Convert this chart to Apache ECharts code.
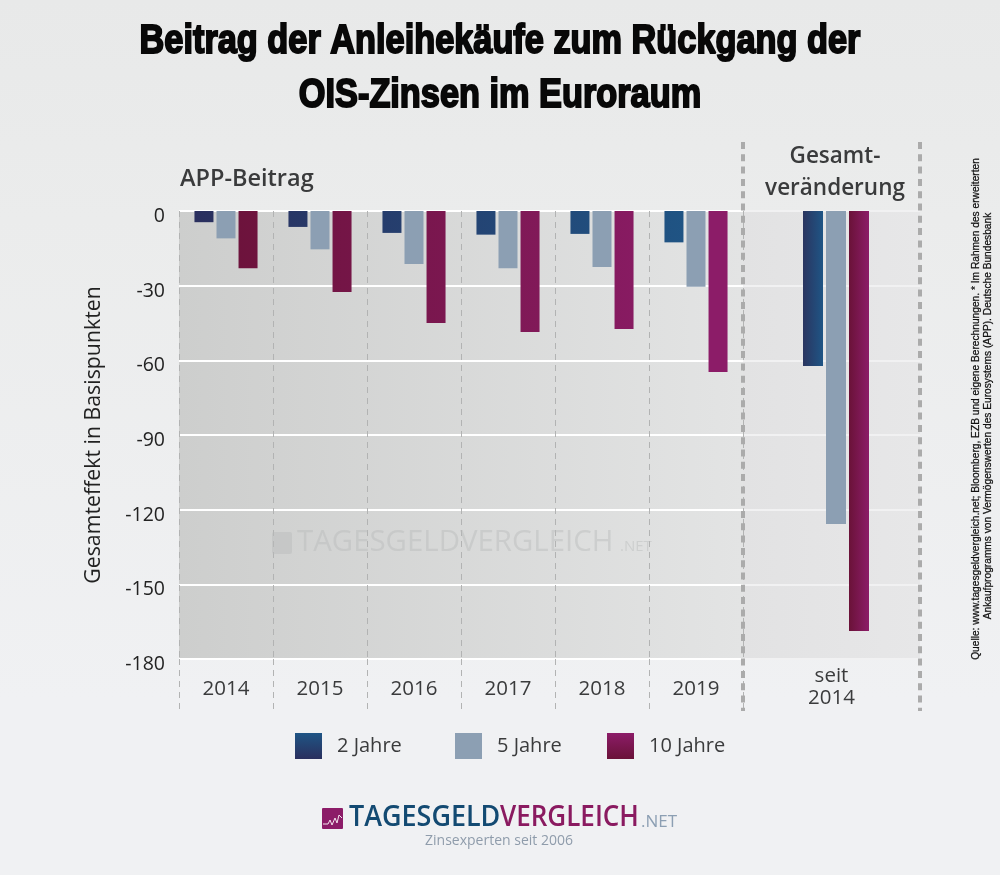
<!DOCTYPE html>
<html><head><meta charset="utf-8">
<style>html,body{margin:0;padding:0;background:#eef0f1}#c{width:1000px;height:875px}</style>
<script src="https://cdn.jsdelivr.net/npm/echarts@6/dist/echarts.min.js"></script>
</head><body><div id="c"></div>
<script>
const years = ['2014','2015','2016','2017','2018','2019'];
const totalLabel = ['seit\n2014'];
const twoYears = [-4.5,-6.4,-8.8,-9.5,-9.2,-12.6];
const fiveYears = [-11,-15.4,-21.3,-23,-22.5,-30.4];
const tenYears = [-23,-32.5,-45,-48.6,-47.4,-64.7];
const twoYearsTotal = [-62.3];
const fiveYearsTotal = [-125.8];
const tenYearsTotal = [-168.8];
const names = ['2 Jahre','5 Jahre','10 Jahre'];

const FONT = '"Open Sans"';
const TXT = '#3a3b3c';
const hGlobal = (a,b)=>({type:'linear',x:195,y:0,x2:700,y2:0,global:true,colorStops:[{offset:0,color:a},{offset:1,color:b}]});
const hLocal = (a,b)=>({type:'linear',x:0,y:0,x2:1,y2:0,colorStops:[{offset:0,color:a},{offset:1,color:b}]});
const vLocal = (a,b)=>({type:'linear',x:0,y:0,x2:0,y2:1,colorStops:[{offset:0,color:a},{offset:1,color:b}]});
const GREY = '#8c9fb3';

const chart = echarts.init(document.getElementById('c'),null,{renderer:'canvas'});
const yAxisBase = {type:'value',min:-180,max:0,interval:30,axisLine:{show:false},axisTick:{show:false}};
const barCommon = {barWidth:19,barGap:'16%',emphasis:{disabled:true},animation:false};
const barTotal = {barWidth:20,barGap:'15%',emphasis:{disabled:true},animation:false};

function legendAt(left,i,c){
  return {left,top:733,padding:0,itemWidth:27,itemHeight:26,itemGap:0,icon:'rect',selectedMode:false,
    data:[{name:names[i],itemStyle:{color:c}}],
    textStyle:{fontFamily:FONT,fontSize:20,color:TXT,padding:[2,0,0,10]}};
}
const titleStyle = {font:'bold 41px "Liberation Sans"',fill:'#080808',stroke:'#080808',lineWidth:2,textAlign:'center',textVerticalAlign:'bottom'};

chart.setOption({
  animation:false,
  backgroundColor:{type:'linear',x:0,y:0,x2:0,y2:1,colorStops:[{offset:0,color:'#e8e9e9'},{offset:0.25,color:'#ebecec'},{offset:0.8,color:'#f0f1f3'},{offset:1,color:'#f0f1f3'}]},
  title:[
    {text:'APP-Beitrag',left:175,top:162,textStyle:{fontFamily:FONT,fontWeight:600,fontSize:23.5,color:TXT}},
    {text:'Gesamt-\nveränderung',left:830,top:136,textAlign:'center',textStyle:{fontFamily:FONT,fontWeight:600,fontSize:22.5,lineHeight:32,color:TXT,align:'center'}}
  ],
  legend:[legendAt(295,0,vLocal('#1f5585','#2a2f5e')),legendAt(455,1,vLocal('#8c9fb3','#8c9fb3')),legendAt(607,2,vLocal('#8c1c68','#6a1238'))],
  grid:[
    {left:179,top:211,width:564,height:448,show:true,borderWidth:0,z:0,
      backgroundColor:{type:'linear',x:0,y:0,x2:1,y2:0,colorStops:[{offset:0,color:'#cdcecd'},{offset:1,color:'#e3e4e4'}]}},
    {left:743,top:211,width:177,height:448,show:true,borderWidth:0,z:0,
      backgroundColor:{type:'linear',x:0,y:0,x2:1,y2:0,colorStops:[{offset:0,color:'#e2e2e3'},{offset:1,color:'#e7e7e8'}]}},
    {left:752,top:211,width:168,height:448}
  ],
  xAxis:[
    {gridIndex:0,type:'category',data:years,position:'bottom',axisLine:{show:false,onZero:false},
      axisTick:{show:true,length:52,lineStyle:{color:'#b2b3b3',type:[6,5],width:1}},
      splitLine:{show:true,lineStyle:{color:'#b2b3b3',type:[6,5],width:1}},
      axisLabel:{fontFamily:FONT,fontSize:20.5,color:TXT,margin:20}},
    {gridIndex:1,type:'category',data:totalLabel,position:'bottom',axisLine:{show:false,onZero:false},axisTick:{show:false},
      axisLabel:{fontFamily:FONT,fontSize:20.5,lineHeight:22,color:TXT,margin:6}},
    {gridIndex:2,type:'category',data:totalLabel,show:false}
  ],
  yAxis:[
    Object.assign({gridIndex:0,name:'Gesamteffekt in Basispunkten',nameLocation:'middle',nameGap:75,nameRotate:90,
      nameTextStyle:{fontFamily:FONT,fontSize:21.3,color:'#222'},
      splitLine:{show:true,lineStyle:{color:'#ffffff',width:2}},
      axisLabel:{fontFamily:FONT,fontSize:19.5,color:'#222',margin:14,verticalAlign:'top',lineHeight:11}},yAxisBase),
    Object.assign({gridIndex:1,axisLabel:{show:false},splitLine:{show:true,lineStyle:{color:'#f1f1f2',width:2}}},yAxisBase),
    Object.assign({gridIndex:2,show:false,splitLine:{show:false}},yAxisBase)
  ],
  series:[
    Object.assign({name:names[0],type:'bar',xAxisIndex:0,yAxisIndex:0,data:twoYears,itemStyle:{color:hGlobal('#2a2f5e','#1f5585')}},barCommon),
    Object.assign({name:names[1],type:'bar',xAxisIndex:0,yAxisIndex:0,data:fiveYears,itemStyle:{color:GREY}},barCommon),
    Object.assign({name:names[2],type:'bar',xAxisIndex:0,yAxisIndex:0,data:tenYears,itemStyle:{color:hGlobal('#6a1238','#8c1c68')}},barCommon),
    Object.assign({name:names[0],type:'bar',xAxisIndex:2,yAxisIndex:2,data:twoYearsTotal,itemStyle:{color:hLocal('#2a3560','#1f5585')}},barTotal),
    Object.assign({name:names[1],type:'bar',xAxisIndex:2,yAxisIndex:2,data:fiveYearsTotal,itemStyle:{color:GREY}},barTotal),
    Object.assign({name:names[2],type:'bar',xAxisIndex:2,yAxisIndex:2,data:tenYearsTotal,itemStyle:{color:hLocal('#6a1238','#8c1c68')}},barTotal)
  ],
  graphic:[
    {type:'text',silent:true,x:500,y:62.5,scaleX:0.837,style:Object.assign({text:'Beitrag der Anleihekäufe zum Rückgang der'},titleStyle)},
    {type:'text',silent:true,x:500,y:116.5,scaleX:0.837,style:Object.assign({text:'OIS-Zinsen im Euroraum'},titleStyle)},
    {type:'text',z:1,silent:true,style:{x:297,y:543,text:'TAGESGELDVERGLEICH',font:'29.4px "Open Sans"',fill:'rgba(185,186,186,0.45)',textVerticalAlign:'middle'}},
    {type:'text',z:1,silent:true,style:{x:620,y:547,text:'.NET',font:'15px "Open Sans"',fill:'rgba(185,186,186,0.45)',textVerticalAlign:'middle'}},
    {type:'rect',z:1,silent:true,shape:{x:272,y:532,width:20,height:22,r:2},style:{fill:'rgba(185,186,186,0.45)'}},
    {type:'line',z:5,silent:true,shape:{x1:743,y1:142,x2:743,y2:711},style:{stroke:'#ababab',lineWidth:4,lineDash:[7,5.3]}},
    {type:'line',z:5,silent:true,shape:{x1:920,y1:142,x2:920,y2:711},style:{stroke:'#ababab',lineWidth:4,lineDash:[7,5.3]}},
    {type:'text',silent:true,rotation:Math.PI/2,x:976,y:409,style:{text:'Quelle: www.tagesgeldvergleich.net; Bloomberg, EZB und eigene Berechnungen. * Im Rahmen des erweiterten',
      font:'10.2px "Liberation Sans"',fill:'#111',stroke:'#111',lineWidth:0.25,textAlign:'center',textVerticalAlign:'middle'}},
    {type:'text',silent:true,rotation:Math.PI/2,x:988.5,y:416,style:{text:'Ankaufprogramms von Vermögenswerten des Eurosystems (APP). Deutsche Bundesbank',
      font:'10.2px "Liberation Sans"',fill:'#111',stroke:'#111',lineWidth:0.25,textAlign:'center',textVerticalAlign:'middle'}},
    {type:'rect',silent:true,shape:{x:322,y:808,width:21,height:21,r:1},style:{fill:'#8c1c68'}},
    {type:'polyline',silent:true,shape:{points:[[323,824],[328,824],[330,820],[332,825],[335,818],[337,823],[339,815],[342,818]]},style:{stroke:'#f3e6ee',fill:null,lineWidth:1}},
    {type:'text',silent:true,x:349,y:818,scaleX:0.945,style:{text:'TAGESGELD',font:'600 28.5px "Open Sans"',fill:'#134a72',textVerticalAlign:'middle'}},
    {type:'text',silent:true,x:500,y:818,scaleX:0.913,style:{text:'VERGLEICH',font:'600 28.5px "Open Sans"',fill:'#8a1a60',textVerticalAlign:'middle'}},
    {type:'text',silent:true,style:{x:641,y:822,text:'.NET',font:'17px "Open Sans"',fill:'#8c9fb3',textVerticalAlign:'middle'}},
    {type:'text',silent:true,style:{x:499,y:841,text:'Zinsexperten seit 2006',font:'14px "Open Sans"',fill:'#8f9cab',textAlign:'center',textVerticalAlign:'middle'}}
  ]
});
</script></body></html>
